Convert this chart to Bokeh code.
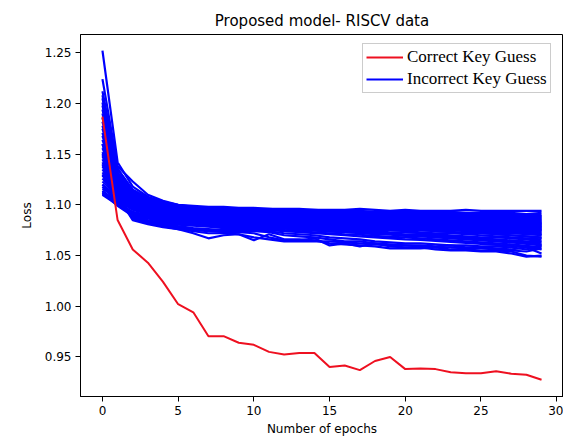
from bokeh.plotting import figure
from bokeh.models import Range1d, Legend, LegendItem, CustomJSTickFormatter
from bokeh.embed import file_html
from bokeh.resources import INLINE

epochs = list(range(30))

correct = [1.187, 1.085, 1.056, 1.043, 1.024, 1.002, 0.994, 0.9705, 0.9705, 0.964,
           0.962, 0.955, 0.9525, 0.954, 0.954, 0.940, 0.9415, 0.937, 0.946, 0.950,
           0.938, 0.9385, 0.938, 0.935, 0.934, 0.934, 0.936, 0.9335, 0.9325, 0.9275]

incorrect_band = [
    [1.252, 1.142, 1.118, 1.108, 1.103, 1.100, 1.099, 1.098, 1.098, 1.097, 1.097, 1.096, 1.096, 1.096, 1.095, 1.095, 1.095, 1.096, 1.095, 1.094, 1.095, 1.094, 1.094, 1.094, 1.095, 1.094, 1.094, 1.094, 1.094, 1.094],
    [1.224, 1.138, 1.123, 1.110, 1.104, 1.100, 1.098, 1.097, 1.097, 1.096, 1.096, 1.096, 1.095, 1.095, 1.095, 1.094, 1.094, 1.094, 1.093, 1.093, 1.093, 1.093, 1.092, 1.093, 1.092, 1.092, 1.092, 1.092, 1.091, 1.092],
    [1.212, 1.135, 1.115, 1.107, 1.102, 1.099, 1.098, 1.097, 1.096, 1.096, 1.095, 1.095, 1.095, 1.094, 1.094, 1.094, 1.093, 1.093, 1.093, 1.092, 1.092, 1.092, 1.091, 1.091, 1.091, 1.091, 1.090, 1.090, 1.090, 1.090],
    [1.205, 1.132, 1.113, 1.106, 1.101, 1.098, 1.097, 1.096, 1.095, 1.095, 1.094, 1.094, 1.093, 1.093, 1.093, 1.092, 1.092, 1.092, 1.091, 1.091, 1.090, 1.090, 1.090, 1.089, 1.089, 1.089, 1.088, 1.088, 1.088, 1.088],
    [1.198, 1.130, 1.112, 1.104, 1.100, 1.097, 1.096, 1.095, 1.094, 1.094, 1.093, 1.093, 1.092, 1.092, 1.091, 1.091, 1.091, 1.090, 1.090, 1.089, 1.089, 1.089, 1.088, 1.088, 1.087, 1.087, 1.087, 1.086, 1.086, 1.086],
    [1.190, 1.128, 1.110, 1.103, 1.099, 1.096, 1.095, 1.094, 1.093, 1.093, 1.092, 1.092, 1.091, 1.091, 1.090, 1.090, 1.089, 1.089, 1.089, 1.088, 1.088, 1.087, 1.087, 1.086, 1.086, 1.086, 1.085, 1.085, 1.084, 1.084],
    [1.182, 1.126, 1.109, 1.102, 1.098, 1.095, 1.094, 1.093, 1.092, 1.092, 1.091, 1.091, 1.090, 1.090, 1.089, 1.089, 1.088, 1.088, 1.087, 1.087, 1.086, 1.086, 1.086, 1.085, 1.085, 1.084, 1.084, 1.083, 1.083, 1.082],
    [1.175, 1.124, 1.108, 1.101, 1.097, 1.094, 1.093, 1.092, 1.091, 1.091, 1.090, 1.090, 1.089, 1.089, 1.088, 1.088, 1.087, 1.087, 1.086, 1.086, 1.085, 1.085, 1.084, 1.084, 1.083, 1.083, 1.082, 1.082, 1.081, 1.081],
    [1.168, 1.122, 1.106, 1.100, 1.096, 1.093, 1.092, 1.091, 1.090, 1.090, 1.089, 1.089, 1.088, 1.088, 1.087, 1.087, 1.086, 1.086, 1.085, 1.085, 1.084, 1.084, 1.083, 1.083, 1.082, 1.082, 1.081, 1.080, 1.080, 1.079],
    [1.160, 1.120, 1.105, 1.099, 1.095, 1.092, 1.091, 1.090, 1.089, 1.089, 1.088, 1.088, 1.087, 1.087, 1.086, 1.086, 1.085, 1.085, 1.084, 1.084, 1.083, 1.083, 1.082, 1.081, 1.081, 1.080, 1.080, 1.079, 1.078, 1.078],
    [1.152, 1.118, 1.104, 1.098, 1.094, 1.091, 1.090, 1.089, 1.088, 1.088, 1.087, 1.087, 1.086, 1.086, 1.085, 1.085, 1.084, 1.084, 1.083, 1.083, 1.082, 1.081, 1.081, 1.080, 1.079, 1.079, 1.078, 1.078, 1.077, 1.076],
    [1.145, 1.116, 1.103, 1.097, 1.093, 1.090, 1.089, 1.088, 1.087, 1.087, 1.086, 1.086, 1.085, 1.085, 1.084, 1.084, 1.083, 1.082, 1.082, 1.081, 1.081, 1.080, 1.079, 1.079, 1.078, 1.077, 1.077, 1.076, 1.075, 1.075],
    [1.138, 1.114, 1.101, 1.096, 1.092, 1.089, 1.088, 1.087, 1.086, 1.086, 1.085, 1.085, 1.084, 1.083, 1.083, 1.082, 1.082, 1.081, 1.081, 1.080, 1.079, 1.079, 1.078, 1.077, 1.077, 1.076, 1.075, 1.075, 1.074, 1.073],
    [1.132, 1.112, 1.100, 1.095, 1.091, 1.088, 1.087, 1.086, 1.085, 1.085, 1.084, 1.084, 1.083, 1.082, 1.082, 1.081, 1.080, 1.080, 1.079, 1.079, 1.078, 1.077, 1.077, 1.076, 1.075, 1.075, 1.074, 1.073, 1.072, 1.071],
    [1.126, 1.110, 1.099, 1.094, 1.090, 1.087, 1.086, 1.085, 1.084, 1.084, 1.083, 1.083, 1.082, 1.081, 1.081, 1.080, 1.079, 1.079, 1.078, 1.077, 1.077, 1.076, 1.075, 1.075, 1.074, 1.073, 1.072, 1.072, 1.071, 1.070],
    [1.120, 1.108, 1.097, 1.093, 1.089, 1.086, 1.085, 1.084, 1.083, 1.083, 1.082, 1.082, 1.081, 1.080, 1.080, 1.079, 1.078, 1.077, 1.077, 1.076, 1.075, 1.075, 1.074, 1.073, 1.072, 1.072, 1.071, 1.070, 1.069, 1.068],
    [1.116, 1.106, 1.096, 1.092, 1.088, 1.085, 1.084, 1.083, 1.082, 1.082, 1.081, 1.080, 1.080, 1.079, 1.078, 1.078, 1.077, 1.076, 1.075, 1.075, 1.074, 1.073, 1.072, 1.072, 1.071, 1.070, 1.069, 1.068, 1.067, 1.066],
    [1.113, 1.104, 1.095, 1.091, 1.087, 1.084, 1.083, 1.082, 1.081, 1.081, 1.080, 1.079, 1.079, 1.078, 1.077, 1.076, 1.076, 1.075, 1.074, 1.073, 1.073, 1.072, 1.071, 1.070, 1.069, 1.068, 1.068, 1.067, 1.066, 1.064],
    [1.111, 1.102, 1.093, 1.090, 1.086, 1.083, 1.082, 1.081, 1.080, 1.080, 1.079, 1.078, 1.078, 1.077, 1.076, 1.075, 1.074, 1.074, 1.073, 1.072, 1.071, 1.071, 1.070, 1.069, 1.068, 1.067, 1.066, 1.065, 1.064, 1.063],
    [1.110, 1.100, 1.091, 1.088, 1.085, 1.082, 1.081, 1.080, 1.079, 1.079, 1.078, 1.077, 1.077, 1.076, 1.075, 1.074, 1.073, 1.073, 1.072, 1.071, 1.070, 1.070, 1.069, 1.068, 1.067, 1.066, 1.065, 1.064, 1.063, 1.061],
    [1.208, 1.136, 1.114, 1.106, 1.102, 1.099, 1.0975, 1.0965, 1.0955, 1.0955, 1.0945, 1.0945, 1.094, 1.0935, 1.0935, 1.093, 1.0925, 1.0925, 1.092, 1.092, 1.0915, 1.091, 1.091, 1.0905, 1.090, 1.090, 1.0895, 1.089, 1.089, 1.089],
    [1.201, 1.131, 1.112, 1.105, 1.1005, 1.0975, 1.0965, 1.0955, 1.0945, 1.0945, 1.0935, 1.0935, 1.0925, 1.0925, 1.092, 1.0915, 1.0915, 1.091, 1.0905, 1.090, 1.0895, 1.0895, 1.089, 1.0885, 1.088, 1.088, 1.0875, 1.087, 1.087, 1.087],
    [1.194, 1.129, 1.111, 1.1035, 1.0995, 1.0965, 1.0955, 1.0945, 1.0935, 1.0935, 1.0925, 1.0925, 1.0915, 1.0915, 1.0905, 1.0905, 1.090, 1.0895, 1.0895, 1.0885, 1.0885, 1.088, 1.0875, 1.087, 1.0865, 1.0865, 1.086, 1.0855, 1.085, 1.085],
    [1.186, 1.127, 1.1095, 1.1025, 1.0985, 1.0955, 1.0945, 1.0935, 1.0925, 1.0925, 1.0915, 1.0915, 1.0905, 1.0905, 1.0895, 1.0895, 1.0885, 1.0885, 1.088, 1.0875, 1.087, 1.0865, 1.0865, 1.0855, 1.0855, 1.085, 1.0845, 1.084, 1.0835, 1.083],
    [1.178, 1.125, 1.1085, 1.1015, 1.0975, 1.0945, 1.0935, 1.0925, 1.0915, 1.0915, 1.0905, 1.0905, 1.0895, 1.0895, 1.0885, 1.0885, 1.0875, 1.0875, 1.0865, 1.0865, 1.0855, 1.0855, 1.085, 1.0845, 1.084, 1.0835, 1.083, 1.0825, 1.082, 1.0815],
    [1.171, 1.123, 1.107, 1.1005, 1.0965, 1.0935, 1.0925, 1.0915, 1.0905, 1.0905, 1.0895, 1.0895, 1.0885, 1.0885, 1.0875, 1.0875, 1.0865, 1.0865, 1.0855, 1.0855, 1.0845, 1.0845, 1.0835, 1.0835, 1.0825, 1.0825, 1.0815, 1.081, 1.0805, 1.080],
    [1.164, 1.121, 1.1055, 1.0995, 1.0955, 1.0925, 1.0915, 1.0905, 1.0895, 1.0895, 1.0885, 1.0885, 1.0875, 1.0875, 1.0865, 1.0865, 1.0855, 1.0855, 1.0845, 1.0845, 1.0835, 1.0835, 1.0825, 1.082, 1.0815, 1.081, 1.0805, 1.0795, 1.079, 1.0785],
    [1.156, 1.119, 1.1045, 1.0985, 1.0945, 1.0915, 1.0905, 1.0895, 1.0885, 1.0885, 1.0875, 1.0875, 1.0865, 1.0865, 1.0855, 1.0855, 1.0845, 1.0845, 1.0835, 1.0835, 1.0825, 1.082, 1.0815, 1.0805, 1.080, 1.0795, 1.079, 1.0785, 1.0775, 1.077],
    [1.148, 1.117, 1.1035, 1.0975, 1.0935, 1.0905, 1.0895, 1.0885, 1.0875, 1.0875, 1.0865, 1.0865, 1.0855, 1.0855, 1.0845, 1.0845, 1.0835, 1.083, 1.0825, 1.082, 1.0815, 1.0805, 1.080, 1.0795, 1.0785, 1.078, 1.0775, 1.077, 1.076, 1.0755],
    [1.142, 1.115, 1.102, 1.0965, 1.0925, 1.0895, 1.0885, 1.0875, 1.0865, 1.0865, 1.0855, 1.0855, 1.0845, 1.084, 1.0835, 1.083, 1.0825, 1.0815, 1.0815, 1.0805, 1.080, 1.0795, 1.0785, 1.078, 1.0775, 1.0765, 1.076, 1.0755, 1.0745, 1.074],
    [1.135, 1.113, 1.1005, 1.0955, 1.0915, 1.0885, 1.0875, 1.0865, 1.0855, 1.0855, 1.0845, 1.0845, 1.0835, 1.0825, 1.0825, 1.0815, 1.081, 1.0805, 1.080, 1.0795, 1.0785, 1.078, 1.0775, 1.0765, 1.076, 1.0755, 1.0745, 1.074, 1.073, 1.072],
    [1.129, 1.111, 1.0995, 1.0945, 1.0905, 1.0875, 1.0865, 1.0855, 1.0845, 1.0845, 1.0835, 1.0835, 1.0825, 1.0815, 1.081, 1.0805, 1.080, 1.0795, 1.0785, 1.078, 1.077, 1.0765, 1.076, 1.0755, 1.0745, 1.074, 1.073, 1.0725, 1.0715, 1.0705],
    [1.123, 1.109, 1.098, 1.0935, 1.0895, 1.0865, 1.0855, 1.0845, 1.0835, 1.0835, 1.0825, 1.082, 1.081, 1.0805, 1.080, 1.079, 1.0785, 1.0775, 1.077, 1.0765, 1.0755, 1.075, 1.074, 1.0735, 1.0725, 1.072, 1.071, 1.070, 1.069, 1.0675],
    [1.118, 1.103, 1.092, 1.089, 1.0855, 1.0825, 1.0815, 1.0805, 1.0795, 1.079, 1.078, 1.0775, 1.0765, 1.0755, 1.0745, 1.0735, 1.073, 1.072, 1.071, 1.0705, 1.0695, 1.069, 1.068, 1.067, 1.066, 1.065, 1.064, 1.063, 1.0615, 1.060],
    [1.114, 1.101, 1.090, 1.087, 1.084, 1.081, 1.080, 1.079, 1.078, 1.0775, 1.0765, 1.076, 1.075, 1.074, 1.073, 1.072, 1.071, 1.0705, 1.0695, 1.0685, 1.068, 1.067, 1.066, 1.065, 1.064, 1.063, 1.062, 1.061, 1.0595, 1.058],
    [1.112, 1.099, 1.089, 1.0865, 1.0835, 1.0805, 1.0795, 1.0785, 1.077, 1.0765, 1.0755, 1.075, 1.074, 1.073, 1.072, 1.071, 1.070, 1.069, 1.068, 1.067, 1.066, 1.0655, 1.0645, 1.0635, 1.0625, 1.0615, 1.0605, 1.0595, 1.058, 1.056],
]

incorrect_low = [
    [1.160, 1.110, 1.086, 1.082, 1.079, 1.076, 1.072, 1.067, 1.070, 1.071, 1.068, 1.066, 1.064, 1.064, 1.064, 1.064, 1.063, 1.062, 1.061, 1.060, 1.060, 1.059, 1.058, 1.058, 1.057, 1.057, 1.056, 1.055, 1.054, 1.057],
    [1.150, 1.108, 1.085, 1.081, 1.078, 1.076, 1.074, 1.072, 1.072, 1.071, 1.065, 1.071, 1.066, 1.066, 1.065, 1.062, 1.061, 1.060, 1.059, 1.057, 1.057, 1.057, 1.058, 1.056, 1.056, 1.055, 1.055, 1.054, 1.050, 1.049],
    [1.140, 1.106, 1.087, 1.083, 1.080, 1.077, 1.075, 1.074, 1.073, 1.073, 1.072, 1.068, 1.065, 1.065, 1.067, 1.060, 1.062, 1.059, 1.062, 1.059, 1.058, 1.058, 1.056, 1.055, 1.055, 1.054, 1.054, 1.052, 1.049, 1.050],
    [1.130, 1.105, 1.088, 1.084, 1.081, 1.078, 1.076, 1.075, 1.074, 1.074, 1.074, 1.073, 1.070, 1.069, 1.068, 1.066, 1.064, 1.064, 1.062, 1.061, 1.060, 1.060, 1.059, 1.060, 1.058, 1.058, 1.057, 1.056, 1.058, 1.052],
    [1.120, 1.104, 1.089, 1.085, 1.082, 1.079, 1.077, 1.076, 1.075, 1.075, 1.075, 1.074, 1.072, 1.071, 1.070, 1.068, 1.067, 1.066, 1.064, 1.063, 1.062, 1.062, 1.061, 1.060, 1.060, 1.059, 1.059, 1.058, 1.056, 1.060],
]

p = figure(width=563, height=438, output_backend="svg", toolbar_location=None,
           x_range=Range1d(-1.45, 30.45), y_range=Range1d(0.911, 1.268),
           min_border_left=80, min_border_right=0, min_border_top=34, min_border_bottom=42,
           title="Proposed model- RISCV data")

p.title.align = "center"
p.title.text_font = "DejaVu Sans"
p.title.text_font_size = "15px"
p.title.text_font_style = "normal"
p.title.text_color = "black"

p.grid.visible = False
p.outline_line_color = "black"
p.outline_line_width = 1
p.background_fill_color = "white"
p.border_fill_color = "white"

for ax in (p.xaxis[0], p.yaxis[0]):
    ax.axis_line_color = "black"
    ax.major_tick_line_color = "black"
    ax.major_tick_out = 5
    ax.major_tick_in = 0
    ax.minor_tick_line_color = None
    ax.major_label_text_font = "DejaVu Sans"
    ax.major_label_text_font_size = "12px"
    ax.major_label_text_color = "black"
    ax.axis_label_text_font = "DejaVu Sans"
    ax.axis_label_text_font_size = "12px"
    ax.axis_label_text_font_style = "normal"
    ax.axis_label_text_color = "black"

p.xaxis.axis_label = "Number of epochs"
p.yaxis.axis_label = "Loss"
p.xaxis.ticker = [0, 5, 10, 15, 20, 25, 30]
p.yaxis.ticker = [0.95, 1.00, 1.05, 1.10, 1.15, 1.20, 1.25]
p.yaxis.formatter = CustomJSTickFormatter(code="return tick.toFixed(2);")
p.xaxis.major_label_standoff = 4
p.yaxis.major_label_standoff = 4
p.xaxis.axis_label_standoff = 4
p.yaxis.axis_label_standoff = 8

blue_renderers = []
for ys in incorrect_band + incorrect_low:
    r = p.line(epochs, ys, line_color="blue", line_width=2.2)
    blue_renderers.append(r)

red = p.line(epochs, correct, line_color="#ee1020", line_width=2)

legend = Legend(items=[LegendItem(label="Correct Key Guess", renderers=[red]),
                       LegendItem(label="Incorrect Key Guess", renderers=[blue_renderers[0]])],
                location=(282, 303))
legend.label_text_font = "Liberation Serif"
legend.label_text_font_size = "17px"
legend.label_text_color = "black"
legend.glyph_width = 37
legend.glyph_height = 20
legend.label_height = 20
legend.label_standoff = 4
legend.spacing = 2
legend.padding = 3
legend.margin = 0
legend.border_line_color = "#999999"
legend.border_line_width = 1
legend.background_fill_alpha = 1
p.add_layout(legend, "center")

open("out.html", "w").write(file_html(p, INLINE))
